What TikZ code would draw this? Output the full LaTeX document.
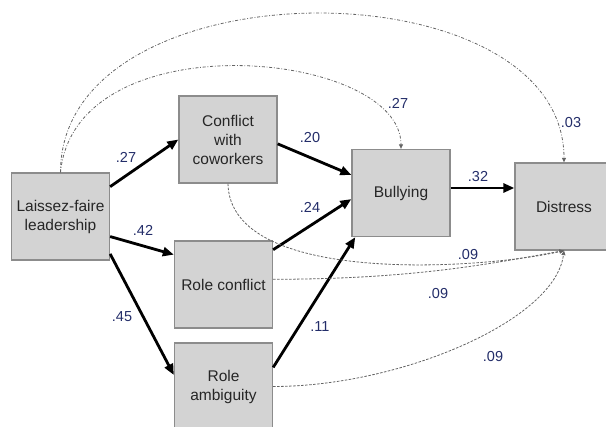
\documentclass[tikz,border=0pt]{standalone}
\usepackage{fontspec}
\setmainfont{Liberation Sans}
\usetikzlibrary{arrows.meta}

\definecolor{boxfill}{RGB}{211,211,211}
\definecolor{boxline}{RGB}{140,140,140}
\definecolor{coefblue}{RGB}{35,45,105}
\definecolor{pathgray}{RGB}{100,100,100}

\begin{document}
\begin{tikzpicture}[x=1pt, y=-1pt,
    varbox/.style={draw=boxline, line width=1.3pt, fill=boxfill, minimum width=98pt, minimum height=87pt,
        align=center, inner sep=2pt, text=black!85, font=\fontsize{15.5}{19}\selectfont},
    direct/.style={line width=2.8pt, -{Triangle[length=11pt,width=9pt]}},
    indirect/.style={pathgray, line width=0.8pt, dash pattern=on 2.5pt off 1.5pt, -{Triangle[length=4.5pt,width=4pt]}},
    longpath/.style={indirect, dash pattern=on 3pt off 1.8pt on 0.8pt off 1.8pt},
    coef/.style={text=coefblue, inner sep=1pt, font=\fontsize{14.5}{17}\selectfont}]

    % Frame of the figure (boxes at the edges are cut off)
    \useasboundingbox (0,0) rectangle (606,427);
    \clip (0,0) rectangle (606,427);

    % Variables
    \node[varbox] (lf) at (60.5,216.5) {Laissez-faire\\leadership};
    \node[varbox] (cwc) at (228,139.5) {Conflict\\with\\coworkers};
    \node[varbox] (rc) at (223.5,284.5) {Role conflict};
    \node[varbox] (ra) at (223.5,386.5) {Role\\ambiguity};
    \node[varbox] (bul) at (401,193) {Bullying};
    \node[varbox] (dis) at (564,206.5) {Distress};

    % Direct paths
    \draw[direct] (lf.31) -- (cwc.west);
    \draw[direct] (lf.-22) -- (rc.149);
    \draw[direct] (lf.-37) -- (ra.167);
    \draw[direct] (cwc.-5) -- (bul.160);
    \draw[direct] (rc.35) -- (bul.187);
    \draw[direct] (ra.21) -- (bul.224);
    \draw[direct] ([yshift=5pt]bul.east) -- ([yshift=5pt]bul.east -| dis.west);

    % Long dotted paths over the top
    \draw[longpath] (lf.north) .. controls +(0,-210) and +(0,-200) .. (dis.north);
    \draw[longpath] (lf.north) .. controls +(15,-153) and +(0,-99) .. (bul.north);

    % Dashed paths into Distress from below
    \draw[indirect] (cwc.south) .. controls +(2,102) and +(-84,19) .. (dis.south);
    \draw[indirect] (rc.6) .. controls +(147,0) and +(-64,11) .. (dis.south);
    \draw[indirect] (ra.east) .. controls +(127,0) and +(-9,70) .. (dis.south);

    % Coefficients
    \node[coef] (c-lf-cwc) at (126,157) {.27};
    \node[coef] (c-lf-rc) at (143,230) {.42};
    \node[coef] (c-lf-ra) at (122,317) {.45};
    \node[coef] (c-cwc-bul) at (310,138) {.20};
    \node[coef] (c-rc-bul) at (310,207) {.24};
    \node[coef] (c-ra-bul) at (320,327) {.11};
    \node[coef] (c-bul-dis) at (478,177) {.32};
    \node[coef] (c-lf-bul) at (398,103) {.27};
    \node[coef] (c-lf-dis) at (571,123) {.03};
    \node[coef] (c-cwc-dis) at (468,255) {.09};
    \node[coef] (c-rc-dis) at (438,294) {.09};
    \node[coef] (c-ra-dis) at (493,357) {.09};
\end{tikzpicture}
\end{document}
